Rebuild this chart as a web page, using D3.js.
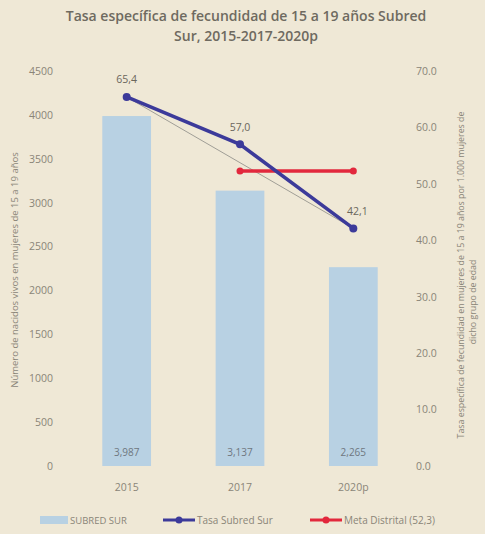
<!DOCTYPE html>
<html>
<head>
<meta charset="utf-8">
<script src="https://cdn.jsdelivr.net/npm/d3@7"></script>
<style>
  body { margin: 0; background: #efe8d6; }
  svg { display: block; font-family: "Open Sans", "Liberation Sans", sans-serif; }
</style>
</head>
<body>
<script>
'use strict';

// data
const years = ["2015", "2017", "2020p"];
const births = [3987, 3137, 2265];          // Subred Sur, left axis
const birthLabels = ["3,987", "3,137", "2,265"];
const rate = [65.4, 57.0, 42.1];            // Tasa Subred Sur, right axis
const rateLabels = ["65,4", "57,0", "42,1"];
const metaYears = ["2017", "2020p"];
const metaValue = 52.3;                     // Meta Distrital
const leftTicks = [0, 500, 1000, 1500, 2000, 2500, 3000, 3500, 4000, 4500];
const rightTicks = [0, 10, 20, 30, 40, 50, 60, 70];

(function() {
  const W = 485, H = 534;
  const svg = d3.select('body').append('svg')
    .attr('width', W)
    .attr('height', H);

  const textCol = '#8a8578';

  // title
  svg.append('text')
    .attr('x', 246).attr('y', 21)
    .attr('text-anchor', 'middle')
    .style('font-size', '14px').style('font-weight', '600')
    .attr('fill', '#6e6a60')
    .text('Tasa específica de fecundidad de 15 a 19 años Subred');
  svg.append('text')
    .attr('x', 246).attr('y', 41)
    .attr('text-anchor', 'middle')
    .style('font-size', '14px').style('font-weight', '600')
    .attr('fill', '#6e6a60')
    .text('Sur, 2015-2017-2020p');

  // scales
  const x = d3.scaleBand()
    .domain(years)
    .range([70, 410])
    .paddingInner(0.57)
    .paddingOuter(0.285);
  const yL = d3.scaleLinear().domain([0, 4500]).range([466, 71]);
  const yR = d3.scaleLinear().domain([0, 70]).range([466, 71]);
  const cx = d => x(d) + x.bandwidth() / 2;

  // axes (no lines, just labels)
  const leftAxis = d3.axisLeft(yL).tickValues(leftTicks).tickSize(0).tickPadding(0)
    .tickFormat(d3.format('d'));
  const gL = svg.append('g').attr('transform', 'translate(53,0)').call(leftAxis);
  const rightAxis = d3.axisRight(yR).tickValues(rightTicks).tickSize(0).tickPadding(0)
    .tickFormat(d3.format('.1f'));
  const gR = svg.append('g').attr('transform', 'translate(416,0)').call(rightAxis);
  const bottomAxis = d3.axisBottom(x).tickSize(0).tickPadding(0);
  const gB = svg.append('g').attr('transform', 'translate(0,484)').call(bottomAxis);
  [gL, gR, gB].forEach(g => {
    g.select('.domain').remove();
    g.selectAll('text').attr('fill', textCol).style('font-size', '10.5px')
      .style('font-family', '"Open Sans", "Liberation Sans", sans-serif');
  });

  // axis titles
  svg.append('text')
    .attr('transform', 'translate(18,270)rotate(-90)')
    .attr('text-anchor', 'middle')
    .style('font-size', '9.5px').attr('fill', textCol)
    .text('Número de nacidos vivos en mujeres de 15 a 19 años');
  svg.append('text')
    .attr('transform', 'translate(464,275)rotate(-90)')
    .attr('text-anchor', 'middle')
    .style('font-size', '8.8px').attr('fill', textCol)
    .text('Tasa específica de fecundidad en mujeres de 15 a 19 años por 1.000 mujeres de');
  svg.append('text')
    .attr('transform', 'translate(476,302)rotate(-90)')
    .attr('text-anchor', 'middle')
    .style('font-size', '8.8px').attr('fill', textCol)
    .text('dicho grupo de edad');

  // bars
  svg.selectAll('.bar')
    .data(births)
    .enter()
    .append('rect')
    .attr('class', 'bar')
    .attr('x', (d, i) => x(years[i]))
    .attr('y', d => yL(d))
    .attr('width', x.bandwidth())
    .attr('height', d => yL(0) - yL(d))
    .attr('fill', '#b8d1e3');

  svg.selectAll('.barlabel')
    .data(birthLabels)
    .enter()
    .append('text')
    .attr('x', (d, i) => cx(years[i]))
    .attr('y', 456)
    .attr('text-anchor', 'middle')
    .style('font-size', '10px')
    .attr('fill', '#6f7780')
    .text(d => d);

  // thin gray trend between first and last point
  svg.append('line')
    .attr('x1', cx(years[0])).attr('y1', yR(rate[0]))
    .attr('x2', cx(years[2])).attr('y2', yR(rate[2]))
    .attr('stroke', '#a09e96').attr('stroke-width', 1);

  // meta distrital line
  const metaCol = '#e2283d';
  svg.append('line')
    .attr('x1', cx(metaYears[0])).attr('y1', yR(metaValue))
    .attr('x2', cx(metaYears[1])).attr('y2', yR(metaValue))
    .attr('stroke', metaCol).attr('stroke-width', 3.5);
  svg.selectAll('.metadot')
    .data(metaYears)
    .enter()
    .append('circle')
    .attr('cx', d => cx(d)).attr('cy', yR(metaValue))
    .attr('r', 3.5).attr('fill', metaCol);

  // tasa subred sur line
  const rateCol = '#3c3a9a';
  const line = d3.line()
    .x((d, i) => cx(years[i]))
    .y(d => yR(d));
  svg.append('path')
    .datum(rate)
    .attr('d', line)
    .attr('fill', 'none')
    .attr('stroke', rateCol)
    .attr('stroke-width', 3.5);
  svg.selectAll('.ratedot')
    .data(rate)
    .enter()
    .append('circle')
    .attr('cx', (d, i) => cx(years[i])).attr('cy', d => yR(d))
    .attr('r', 4).attr('fill', rateCol);

  const labelDx = [0, 0, 4];
  const labelDy = [-14, -13, -13];
  svg.selectAll('.ratelabel')
    .data(rateLabels)
    .enter()
    .append('text')
    .attr('x', (d, i) => cx(years[i]) + labelDx[i])
    .attr('y', (d, i) => yR(rate[i]) + labelDy[i])
    .attr('text-anchor', 'middle')
    .style('font-size', '10.5px')
    .attr('fill', '#6a665c')
    .text(d => d);

  // legend
  const ly = 520;
  svg.append('rect')
    .attr('x', 40).attr('y', ly - 4).attr('width', 28).attr('height', 8)
    .attr('fill', '#b8d1e3');
  svg.append('text')
    .attr('x', 70).attr('y', ly + 3.5)
    .style('font-size', '9.5px').attr('fill', textCol)
    .text('SUBRED SUR');

  svg.append('line')
    .attr('x1', 163).attr('y1', ly).attr('x2', 195).attr('y2', ly)
    .attr('stroke', rateCol).attr('stroke-width', 3);
  svg.append('circle').attr('cx', 179).attr('cy', ly).attr('r', 3.5).attr('fill', rateCol);
  svg.append('text')
    .attr('x', 197).attr('y', ly + 3.5)
    .style('font-size', '10px').attr('fill', textCol)
    .text('Tasa Subred Sur');

  svg.append('line')
    .attr('x1', 310).attr('y1', ly).attr('x2', 342).attr('y2', ly)
    .attr('stroke', metaCol).attr('stroke-width', 3);
  svg.append('circle').attr('cx', 326).attr('cy', ly).attr('r', 3.5).attr('fill', metaCol);
  svg.append('text')
    .attr('x', 344).attr('y', ly + 3.5)
    .style('font-size', '10px').attr('fill', textCol)
    .text('Meta Distrital (52,3)');
})();
</script>
</body>
</html>
